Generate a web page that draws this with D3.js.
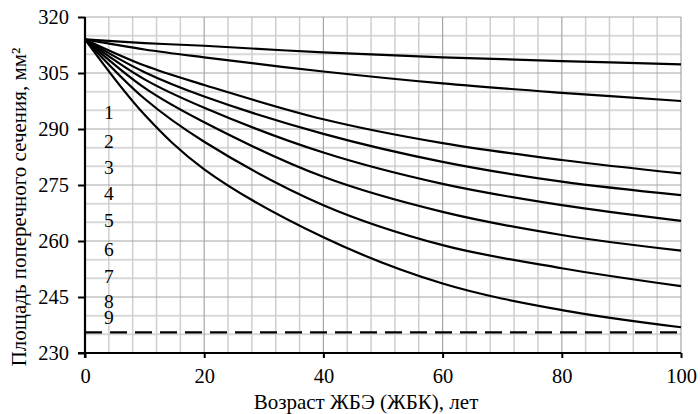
<!DOCTYPE html>
<html>
<head>
<meta charset="utf-8">
<script src="https://cdn.jsdelivr.net/npm/d3@7"></script>
<style>
  html, body { margin: 0; padding: 0; background: #fff; }
  svg { display: block; }
  svg text { font-family: "Liberation Serif" !important; }
</style>
</head>
<body>
<div id="chart"></div>
<script>
// ---- data ----
const ages = [0, 10, 20, 40, 60, 80, 100];
const curve1 = [314, 313.0, 312.3, 310.5, 309.2, 308.2, 307.3];
const curve2 = [314, 311.3, 309.2, 305.4, 302.2, 299.7, 297.5];
const curve3 = [314, 307.0, 301.8, 292.6, 286.2, 281.7, 278.1];
const curve4 = [314, 305.2, 298.7, 288.7, 281.2, 275.9, 272.3];
const curve5 = [314, 303.3, 295.7, 283.7, 275.3, 269.6, 265.4];
const curve6 = [314, 301.0, 291.8, 277.2, 267.8, 261.6, 257.4];
const curve7 = [314, 298.1, 286.6, 269.6, 258.9, 252.7, 247.9];
const curve8 = [314, 293.8, 279.2, 261.0, 248.6, 241.5, 236.9];
const limitValue = 235.5;
const labelNames = ["1", "2", "3", "4", "5", "6", "7", "8", "9"];
const labelAge = 4;
const labelValues = [294.4, 286.8, 279.7, 272.9, 265.6, 257.9, 250.6, 243.9, 239.5];
const xTicks = [0, 20, 40, 60, 80, 100];
const yTicks = [230, 245, 260, 275, 290, 305, 320];
const xTitle = "Возраст ЖБЭ (ЖБК), лет";
const yTitle = "Площадь поперечного сечения, мм²";

const FONT = '"Liberation Serif"';
const W = 700, H = 414;
const svg = d3.select("#chart").append("svg").attr("width", W).attr("height", H);

const x = d3.scaleLinear().domain([0, 100]).range([85, 681]);
const y = d3.scaleLinear().domain([230, 320]).range([353, 17]);

// ---- grid ----
const grid = svg.append("g");
const xMinor = d3.range(0, 101, 4).filter(v => v % 20 !== 0);
const yMinor = d3.range(230, 321, 5).filter(v => (v - 230) % 15 !== 0);
grid.selectAll(".yminor").data(yMinor).join("line")
  .attr("x1", x(0)).attr("x2", x(100))
  .attr("y1", d => y(d)).attr("y2", d => y(d))
  .attr("stroke", "#d9d9d9").attr("stroke-width", 2);
grid.selectAll(".xminor").data(xMinor).join("line")
  .attr("y1", y(230)).attr("y2", y(320))
  .attr("x1", d => x(d)).attr("x2", d => x(d))
  .attr("stroke", "#cfcfcf").attr("stroke-width", 1.5);
grid.selectAll(".ymajor").data(yTicks.filter(v => v !== 230)).join("line")
  .attr("x1", x(0)).attr("x2", x(100))
  .attr("y1", d => y(d)).attr("y2", d => y(d))
  .attr("stroke", "#a6a6a6").attr("stroke-width", 1.2);
grid.selectAll(".xmajor").data(xTicks.filter(v => v !== 0)).join("line")
  .attr("y1", y(230)).attr("y2", y(320))
  .attr("x1", d => x(d)).attr("x2", d => x(d))
  .attr("stroke", "#a6a6a6").attr("stroke-width", 1.2);

// ---- curves ----
const series = [curve1, curve2, curve3, curve4, curve5, curve6, curve7, curve8];
const line = d3.line().x(d => x(d[0])).y(d => y(d[1])).curve(d3.curveCatmullRom.alpha(0.5));
svg.append("g").selectAll("path").data(series).join("path")
  .attr("d", s => line(ages.map((a, i) => [a, s[i]])))
  .attr("fill", "none").attr("stroke", "#000").attr("stroke-width", 2.2);

svg.append("line")
  .attr("x1", x(0)).attr("x2", x(100))
  .attr("y1", y(limitValue)).attr("y2", y(limitValue))
  .attr("stroke", "#000").attr("stroke-width", 2.2)
  .attr("stroke-dasharray", "17,8");

// ---- axes ----
const xAxis = d3.axisBottom(x).tickValues(xTicks).tickSize(5).tickPadding(10).tickSizeOuter(0);
const gx = svg.append("g").attr("transform", `translate(0,${y(230)})`).call(xAxis)
  .attr("font-family", null).attr("font-size", null);
gx.select(".domain").attr("stroke", "#000").attr("stroke-width", 2)
  .attr("d", `M${x(0) - 7},0H${x(100)}`);
gx.selectAll(".tick line").attr("stroke", "#000").attr("stroke-width", 2);
gx.selectAll(".tick text").attr("fill", "#000")
  .attr("font-size", 20.5).style("font-family", FONT);

const yAxis = d3.axisLeft(y).tickValues(yTicks).tickSize(7).tickPadding(9).tickSizeOuter(0);
const gy = svg.append("g").attr("transform", `translate(${x(0)},0)`).call(yAxis)
  .attr("font-family", null).attr("font-size", null);
gy.select(".domain").attr("stroke", "#000").attr("stroke-width", 2.2)
  .attr("d", `M0,${y(230) + 5}V${y(320)}`);
gy.selectAll(".tick line").attr("stroke", "#000").attr("stroke-width", 2);
gy.selectAll(".tick text").attr("fill", "#000")
  .attr("font-size", 20.5).style("font-family", FONT);

// ---- labels ----
svg.append("g").selectAll("text").data(labelNames).join("text")
  .attr("x", x(labelAge)).attr("y", (d, i) => y(labelValues[i]))
  .attr("text-anchor", "middle").attr("dy", "0.35em")
  .attr("font-size", 19.5).style("font-family", FONT)
  .text(d => d);

// ---- titles ----
svg.append("text").attr("x", 366).attr("y", 409)
  .attr("font-size", 21).style("font-family", FONT)
  .attr("text-anchor", "middle").text(xTitle);
svg.append("text").attr("transform", "translate(26,207) rotate(-90)")
  .attr("font-size", 21).style("font-family", FONT)
  .attr("text-anchor", "middle").text(yTitle);
</script>
</body>
</html>
